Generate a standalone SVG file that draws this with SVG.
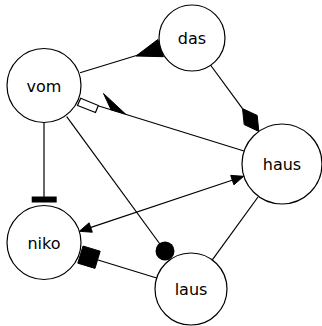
<svg xmlns="http://www.w3.org/2000/svg" width="322" height="326" viewBox="0 0 322 326">
  <style>
    .edge { stroke: #000; stroke-width: 1.2; fill: none; }
    .head { fill: #000; stroke: #000; stroke-width: 1; }
    .open { fill: #fff; stroke: #000; stroke-width: 1.2; }
    .node circle { fill: #fff; stroke: #000; stroke-width: 1.2; }
    .node text { font-family: "DejaVu Sans", sans-serif; font-size: 16px; text-anchor: middle; fill: #000; }
  </style>
  <rect width="322" height="326" fill="#fff"/>

  <g id="edges">
    <!-- vom -> das, inverted triangle at das -->
    <line class="edge" x1="80" y1="72.7" x2="161" y2="48"/>
    <polygon class="head" points="136,56 163.4,56.7 157.8,39.5"/>

    <!-- das -> haus, filled diamond at haus -->
    <line class="edge" x1="210.5" y1="65" x2="242.5" y2="108.6"/>
    <polygon class="head" points="258.8,131.4 257.2,115.4 242.5,108.6 244.2,124.6"/>

    <!-- vom -> haus, open box at vom and half arrow on the line -->
    <line class="edge" x1="98" y1="105.8" x2="244" y2="151"/>
    <polygon class="open" points="80.7,98.3 98.3,105.5 95.5,112.5 77.5,105.5"/>
    <polygon class="head" points="125.5,114 103.5,93.5 111,109.7"/>

    <!-- vom -> niko, tee at niko -->
    <line class="edge" x1="44" y1="122.5" x2="44" y2="197"/>
    <rect x="31.7" y="196.5" width="25" height="6" fill="#000"/>

    <!-- vom -> laus, dot at laus -->
    <line class="edge" x1="66.7" y1="116.7" x2="165" y2="251"/>
    <circle cx="165" cy="251" r="9.5" fill="#000"/>

    <!-- niko <-> haus -->
    <line class="edge" x1="88" y1="228.4" x2="235" y2="179.2"/>
    <polygon class="head" points="79.3,231.3 92.3,232.2 89.1,222.8"/>
    <polygon class="head" points="243.7,176.3 233.9,184.8 230.7,175.4"/>

    <!-- laus -> niko, filled box at niko -->
    <line class="edge" x1="156.7" y1="278" x2="98" y2="260"/>
    <polygon class="head" points="100.2,251.2 95,268.4 77.8,263.2 83,246"/>

    <!-- haus - laus -->
    <line class="edge" x1="212.5" y1="259.7" x2="258" y2="197"/>
  </g>

  <g id="vom" class="node">
    <circle cx="44" cy="85.5" r="37"/>
    <text x="44" y="91.5">vom</text>
  </g>
  <g id="das" class="node">
    <circle cx="192" cy="38" r="33"/>
    <text x="192" y="43.5">das</text>
  </g>
  <g id="haus" class="node">
    <circle cx="282" cy="164" r="40"/>
    <text x="282" y="169.5">haus</text>
  </g>
  <g id="niko" class="node">
    <circle cx="44" cy="242.5" r="37"/>
    <text x="44" y="248.5">niko</text>
  </g>
  <g id="laus" class="node">
    <circle cx="191" cy="289" r="36"/>
    <text x="191" y="294.5">laus</text>
  </g>
</svg>
